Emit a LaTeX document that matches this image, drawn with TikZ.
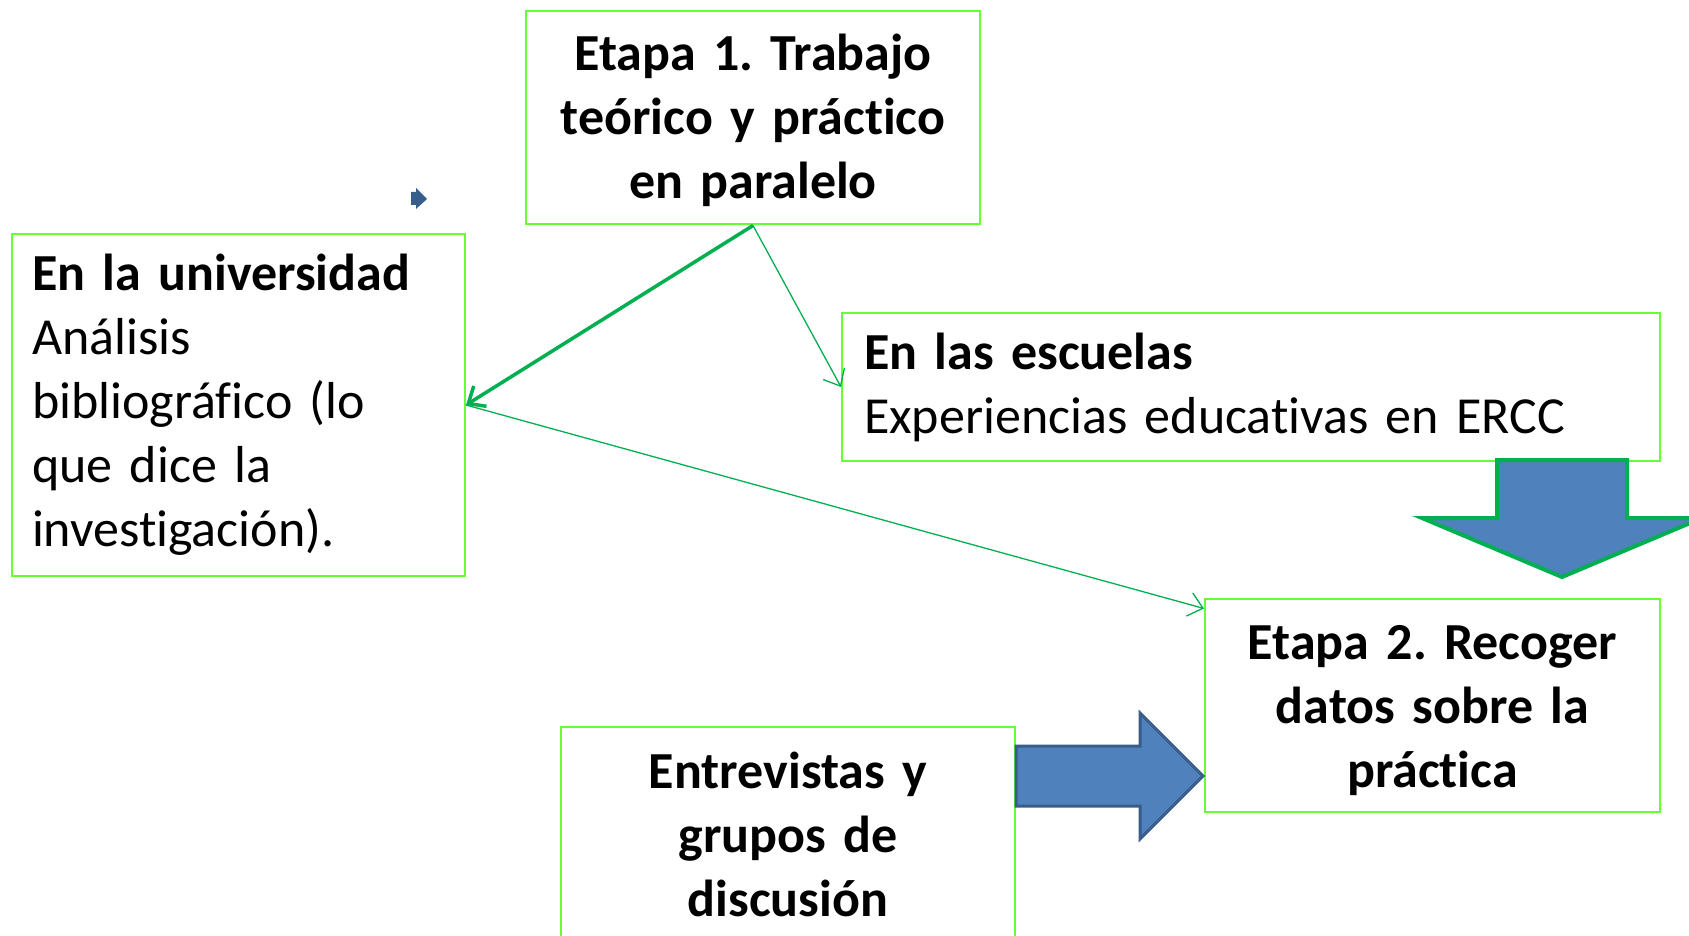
\documentclass[tikz,border=0pt]{standalone}
\usepackage{fontspec}
\setmainfont{Carlito}[Ligatures={NoCommon,NoContextual}]
\usetikzlibrary{arrows.meta}
\definecolor{boxgreen}{HTML}{66FF33}
\definecolor{linegreen}{HTML}{00B050}
\definecolor{arrowblue}{HTML}{4F81BD}
\definecolor{darkblue}{HTML}{385D8A}
\frenchspacing
\begin{document}
\begin{tikzpicture}[x=1pt,y=-1pt,>={Straight Barb[length=14pt,width=24pt]},
  stagebox/.style={draw=boxgreen,line width=2pt,inner sep=0pt,font=\fontsize{52}{64}\selectfont},
  link/.style={->,draw=linegreen,line width=1.3pt},
  blockarrow/.style={fill=arrowblue,line width=4pt,line join=miter}]
\clip(0,0)rectangle(1689,936);
\fill[white](0,0)rectangle(1689,936);
\node[stagebox,minimum width=454pt,minimum height=213pt,text width=430pt,align=center](etapa1)at(753,118){\bfseries\rule{0pt}{42pt}Etapa 1. Trabajo\\ \bfseries teórico y práctico\\ \bfseries en paralelo};
\node[stagebox,minimum width=453pt,minimum height=342pt,text width=413pt,align=left](univ)at(238.5,405){\textbf{En la universidad}\\Análisis\\bibliográfico (lo\\que dice la\\investigación).};
\node[stagebox,minimum width=818pt,minimum height=148pt,text width=774pt,align=left](escuelas)at(1251,387){\textbf{En las escuelas}\\Experiencias educativas en ERCC};
\node[stagebox,minimum width=455pt,minimum height=213pt,text width=430pt,align=center](etapa2)at(1432.5,705.5){\bfseries\rule{0pt}{45pt}Etapa 2. Recoger\\ \bfseries datos sobre la\\ \bfseries práctica};
\node[stagebox,minimum width=454pt,minimum height=214pt,text width=430pt,align=center](entrev)at(788,834){\bfseries Entrevistas y\\ \bfseries grupos de\\ \bfseries discusión};
\draw[link,line width=3.5pt](etapa1.south)--(univ.east);
\draw[link](etapa1.south)--(escuelas.west);
\draw[link](univ.east)--(etapa2.157);
% flechas de bloque
\draw[blockarrow,draw=linegreen](1497,460)--(1627,460)--(1627,518)--(1702,518)--(1562,577)--(1422,518)--(1497,518)--cycle;
\draw[blockarrow,draw=darkblue,line width=3pt](entrev.east|-0,746)--(1140,746)--(1140,713)--(1203,776)--(1140,839)--(1140,806)--(entrev.east|-0,806)--cycle;
\fill[darkblue](411,192)--(416,192)--(416,188)--(427,199)--(416,209)--(416,205)--(411,205)--cycle;
\end{tikzpicture}
\end{document}
